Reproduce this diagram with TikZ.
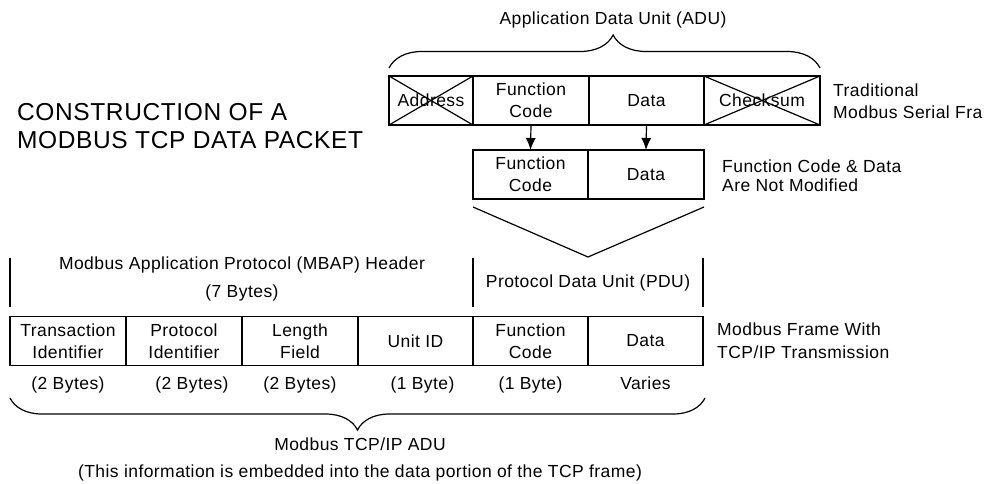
\documentclass[tikz,border=0pt]{standalone}
\usepackage{fontspec}
\setmainfont[LetterSpace=2.5]{Liberation Sans}
\usetikzlibrary{positioning,arrows.meta,decorations.pathreplacing}

\begin{document}
\begin{tikzpicture}[x=1pt, y=-1pt,
            cell/.style = {
                rectangle,
                draw,
                line width = 1.2pt,
                inner sep = 0pt,
                outer sep = 0pt,
                align = center,
                minimum width = 116pt,
                minimum height = 49pt,
                font = \fontsize{17.5}{22}\selectfont},
            txt/.style = {
                inner sep = 0pt,
                align = left,
                font = \fontsize{17.5}{22}\selectfont},
            ctxt/.style = {
                txt,
                align = center},
            arrow/.style = {
                draw,
                line width = 1.2pt,
                -{Latex[length=12pt, width=10pt]}},
            line/.style = {
                draw,
                line width = 1.2pt},
            bracket/.style = {
                draw,
                line width = 1.2pt,
                decorate}]
        \useasboundingbox (0,0) rectangle (984,483);

        % Place nodes
        \node [txt, anchor=west, font=\fontsize{24.5}{28}\selectfont] (title) at (17,126)
            {CONSTRUCTION OF A\\MODBUS TCP DATA PACKET};
        \node [ctxt] (adutitle) at (613,20) {Application Data Unit (ADU)};

        \node [cell, minimum width=84pt] (addr) at (431,100.5) {Address};
        \node [cell, right=0pt of addr] (fc) {Function\\Code};
        \node [cell, minimum width=115pt, right=0pt of fc] (data) {Data};
        \node [cell, right=0pt of data] (cks) {Checksum};
        \node [txt, anchor=west] (serial) at (833,101) {Traditional\\Modbus Serial Fra};

        \node [cell, minimum width=115pt, below=25pt of fc.south west, anchor=north west] (mfc) {Function\\Code};
        \node [cell, right=0pt of mfc] (mdata) {Data};
        \node [txt, anchor=west, font=\fontsize{17.5}{19}\selectfont] (notmod) at (722,175.5)
            {Function Code \& Data\\Are Not Modified};

        \coordinate (vl) at (473,207);
        \coordinate (vr) at (704,207);
        \coordinate (vp) at (588,257);

        \node [ctxt, font=\fontsize{17.5}{28}\selectfont] (mbap) at (242,279)
            {Modbus Application Protocol (MBAP) Header\\(7 Bytes)};
        \node [ctxt] (pdu) at (588,283) {Protocol Data Unit (PDU)};

        \node [cell] (tid) at (68,341) {Transaction\\Identifier};
        \node [cell, right=0pt of tid] (pid) {Protocol\\Identifier};
        \node [cell, right=0pt of pid] (len) {Length\\Field};
        \node [cell, minimum width=115pt, right=0pt of len] (uid) {Unit ID};
        \node [cell, minimum width=115pt, right=0pt of uid] (bfc) {Function\\Code};
        \node [cell, minimum width=115pt, right=0pt of bfc] (bdata) {Data};
        \node [txt, anchor=west, font=\fontsize{17.5}{23}\selectfont] (tcpip) at (717,340.5)
            {Modbus Frame With\\TCP/IP Transmission};

        \node [ctxt, below=11pt of tid] (btid) {(2 Bytes)};
        \node [ctxt, below=11pt of pid, xshift=8pt] (bpid) {(2 Bytes)};
        \node [ctxt, below=11pt of len] (blen) {(2 Bytes)};
        \node [ctxt, below=11pt of uid, xshift=7pt] (buid) {(1 Byte)};
        \node [ctxt, below=11pt of bfc] (bbfc) {(1 Byte)};
        \node [ctxt, below=11pt of bdata] (bbdata) {Varies};

        \coordinate (bl) at (10,398);
        \coordinate (br) at (705,398);
        \node [ctxt, font=\fontsize{17.5}{27}\selectfont] (tcpadu) at (360,459.5)
            {Modbus TCP/IP ADU\\(This information is embedded into the data portion of the TCP frame)};

        % Draw edges
        \path [line] (addr.north west) -- (addr.south east);
        \path [line] (addr.south west) -- (addr.north east);
        \path [line] (cks.north west) -- (cks.south east);
        \path [line] (cks.south west) -- (cks.north east);
        \path [bracket, decoration={brace, amplitude=33pt, aspect=0.52}]
            ([yshift=8pt]addr.north west) -- ([yshift=8pt]cks.north east);
        \path [arrow] (fc.south) -- (mfc.north);
        \path [arrow] (data.south) -- (mdata.north);
        \path [line] (vl) -- (vp) -- (vr);
        \foreach \x in {10,473,703}
            \path [line] (\x,258) -- (\x,307);
        \path [bracket, decoration={brace, mirror, amplitude=32pt}] (bl) -- (br);
    \end{tikzpicture}
\end{document}
